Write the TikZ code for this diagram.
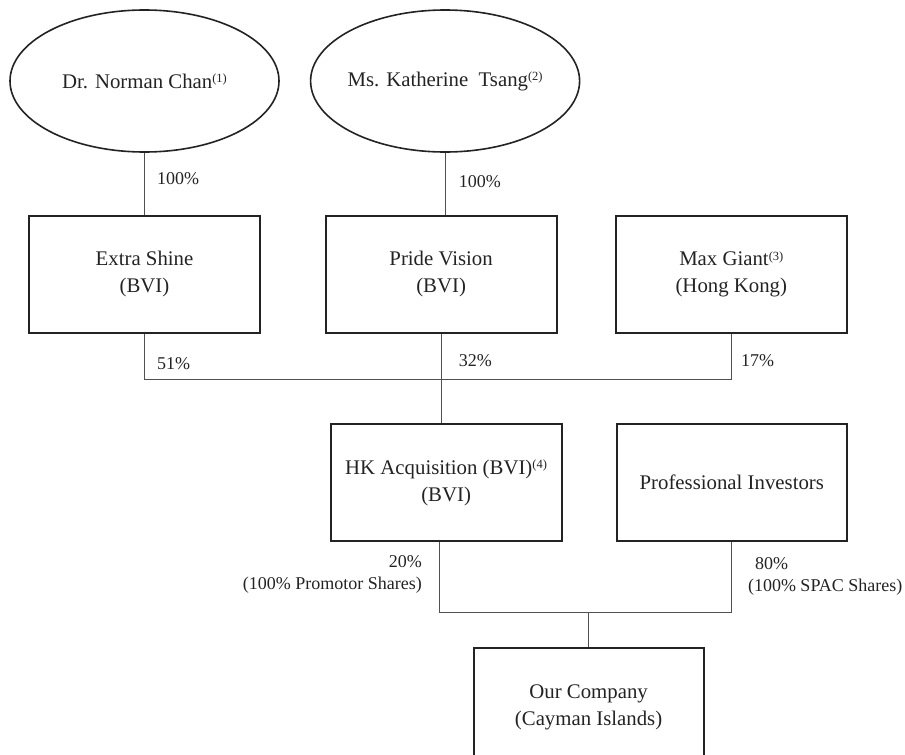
\documentclass[tikz,border=0pt]{standalone}
\usepackage{fontspec}
\setmainfont{Liberation Serif}
\usepackage{tikz}
\usetikzlibrary{positioning,shapes.geometric,calc}
\definecolor{inkcol}{RGB}{35,35,35}
\definecolor{wirecol}{RGB}{80,80,80}
\newcommand{\refmark}[1]{\raisebox{0.62ex}{\fontsize{12.5}{12.5}\selectfont(#1)}}

\begin{document}
\begin{tikzpicture}[x=1pt, y=-1pt,
  holder/.style={ellipse, draw=inkcol, line width=1.6pt, inner xsep=-25pt, inner ysep=0pt,
                 minimum width=269pt, minimum height=142pt, text=inkcol,
                 font=\fontsize{20.8}{27}\selectfont},
  entity/.style={rectangle, draw=inkcol, line width=2.2pt, inner sep=0pt,
                 minimum width=231pt, minimum height=117pt, align=center, text=inkcol,
                 font=\fontsize{20.8}{27}\selectfont},
  link/.style={draw=wirecol, line width=1pt},
  pct/.style={inner sep=0pt, text=inkcol, font=\fontsize{18}{22}\selectfont},
]
\useasboundingbox (0,0) rectangle (905,755);

\node[holder] (chan) at (144.5,81) {Dr. Norman Chan\refmark{1}};
\node[holder, right=30pt of chan] (tsang) {Ms. Katherine\ \ Tsang\refmark{2}};

\node[entity, below=62pt of chan] (extra) {Extra Shine\\(BVI)};
\node[entity, below=62pt of tsang, xshift=-4pt] (pride) {Pride Vision\\(BVI)};
\node[entity, right=57pt of pride] (maxg) {Max Giant\refmark{3}\\(Hong Kong)};

\node[entity, below=89pt of pride, xshift=5pt] (hkacq) {HK Acquisition (BVI)\refmark{4}\\(BVI)};
\node[entity, right=53pt of hkacq, minimum width=230pt] (proinv) {Professional Investors};

\node[entity, below=105pt of hkacq, xshift=142.5pt, minimum width=230pt,
      minimum height=118pt] (ourco) {Our Company\\(Cayman Islands)};

% shareholders to holding vehicles
\draw[link] (chan) -- (extra);
\draw[link] (tsang) -- (tsang |- pride.north);

% holding vehicles to HK Acquisition
\coordinate (hkin) at (pride.south |- hkacq.north);
\draw[link] (extra.south) -- ++(0,45) -| (maxg.south);
\draw[link] (pride.south) -- (hkin);

% HK Acquisition and investors to the company
\coordinate (hkout) at ($(hkacq.south)+(-6.5,0)$);
\draw[link] (hkout) -- ++(0,70) -| (proinv.south);
\draw[link] (ourco.north) -- ++(0,-35);

% percentages
\node[pct, anchor=west] (p100a) at ($(chan.south)+(12.5,26)$) {100\%};
\node[pct, anchor=west] (p100b) at ($(tsang.south)+(13.5,29)$) {100\%};
\node[pct, anchor=west] (p51) at ($(extra.south)+(12.5,30)$) {51\%};
\node[pct, anchor=west] (p32) at ($(pride.south)+(17.5,27)$) {32\%};
\node[pct, anchor=west] (p17) at ($(maxg.south)+(9.5,27)$) {17\%};
\node[pct, anchor=east, align=right] (p20) at ($(hkacq.south)+(-24,32)$)
  {20\%\\(100\% Promotor Shares)};
\node[pct, anchor=west, align=left] (p80) at ($(proinv.south)+(16,34)$)
  {\hspace*{7pt}80\%\\(100\% SPAC Shares)};

\end{tikzpicture}
\end{document}
